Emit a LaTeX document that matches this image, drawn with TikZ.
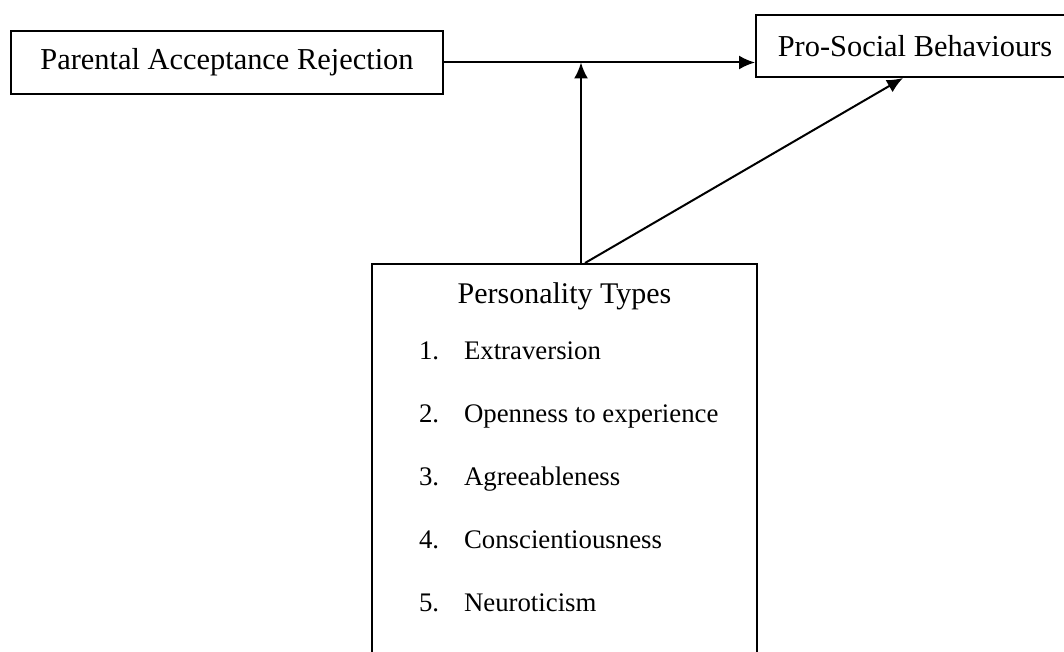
\documentclass[tikz,border=0pt]{standalone}
\usepackage{fontspec}
\setmainfont{Liberation Serif}
\usetikzlibrary{arrows.meta}
\tikzstyle{factor}=[rectangle, draw, line width=1pt, inner sep=0pt, font=\fontsize{15.2}{18}\selectfont]
\tikzstyle{trait}=[anchor=base west, inner sep=0pt, font=\fontsize{13.4}{16}\selectfont]

\begin{document}
\begin{tikzpicture}[x=0.5pt, y=-0.5pt, line width=1pt, >={Latex[length=8pt,width=7pt]}]
                \clip (0,0) rectangle (1064,652);
                \node[factor, minimum width=216pt, minimum height=31.5pt] (parar) at (227,62.5) {Parental Acceptance Rejection};
                \node[factor, minimum width=159pt, minimum height=31pt] (pro) at (915,46) {Pro-Social Behaviours};
                \node[factor, minimum width=192.5pt, minimum height=220pt] (ptypes) at (564.5,484) {};
                \node[anchor=base, inner sep=0pt, font=\fontsize{15}{18}\selectfont] (ptitle) at (564.5,303) {Personality Types};
                \foreach \n/\t in {1/Extraversion, 2/Openness to experience, 3/Agreeableness, 4/Conscientiousness, 5/Neuroticism} {
                    \node[trait] (num\n) at (418, 296+63*\n) {\n.};
                    \node[trait] (trait\n) at (463, 296+63*\n) {\t};
                }
                \coordinate (join) at (581,62.5);
                \coordinate (foot) at (585,264);
                \coordinate (hit) at (903,77);
                \draw[->] (parar.east) -- (parar.east -| pro.west);
                \draw[->] (ptypes.north -| join) -- (join);
                \draw[->] (ptypes.north -| foot) -- (pro.south -| hit);
            \end{tikzpicture}
\end{document}
